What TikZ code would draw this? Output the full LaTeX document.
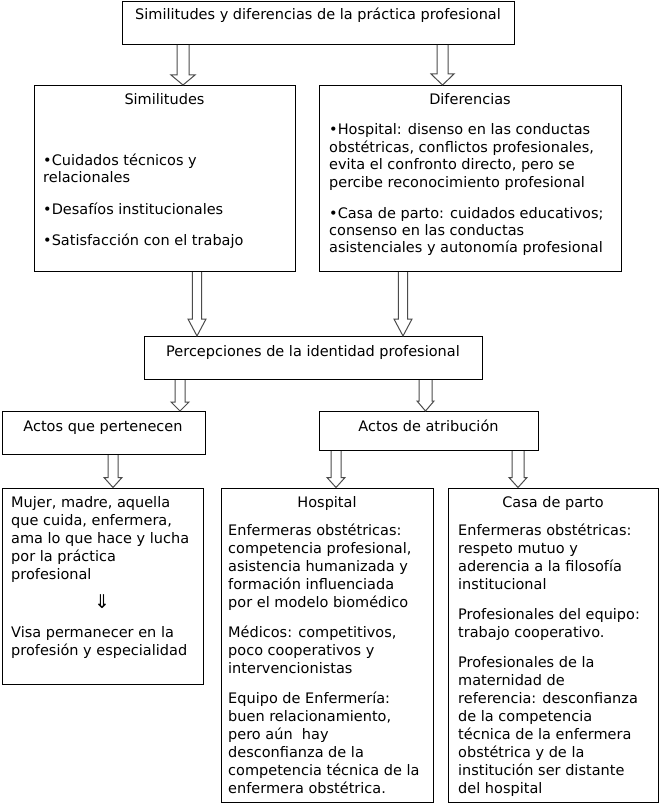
\documentclass[tikz,border=0pt]{standalone}
\usepackage{fontspec}
\setmainfont{DejaVu Sans}
\usetikzlibrary{calc}
\newcommand\tbx[4]{\vtop{\hsize=#1pt\parindent=0pt\baselineskip=#2pt\parskip=#3pt\raggedright\leavevmode #4\par}}
\newcommand\blk[6]{%
 \draw[arr] let \p1=(#1.south), \p2=(#2.north) in
 ({(#3-#4)*1pt},\y1) -- ({(#3-#4)*1pt},{\y2+#6pt}) -- ({(#3-#5)*1pt},{\y2+#6pt}) -- ({#3*1pt},\y2) -- ({(#3+#5)*1pt},{\y2+#6pt}) -- ({(#3+#4)*1pt},{\y2+#6pt}) -- ({(#3+#4)*1pt},\y1);}
\tikzset{
 box/.style={draw=black, line width=1pt, inner sep=0pt, anchor=north west},
 arr/.style={draw=black!70, line width=1pt, line join=miter},
 lbl/.style={inner sep=0pt, font=\fontsize{14.5}{17.4}\selectfont},
}
\begin{document}
\begin{tikzpicture}[x=1pt,y=-1pt]
\fill[white] (0,0) rectangle (659,805);
\useasboundingbox (0,0) rectangle (659,805);
% boxes
\node[box, minimum width=392.5pt, minimum height=42.5pt] (top) at (121.5,1.5) {};
\node[box, minimum width=261pt, minimum height=186pt] (sim) at (34,85) {};
\node[box, minimum width=302pt, minimum height=186pt] (dif) at (319,85) {};
\node[box, minimum width=338pt, minimum height=43pt] (perc) at (144,336) {};
\node[box, minimum width=203.5pt, minimum height=43pt] (actp) at (1.5,411) {};
\node[box, minimum width=219pt, minimum height=39pt] (acta) at (319,411) {};
\node[box, minimum width=201.5pt, minimum height=196.5pt] (mujer) at (1.5,487.5) {};
\node[box, minimum width=212.5pt, minimum height=314.5pt] (hosp) at (220.5,487.5) {};
\node[box, minimum width=210pt, minimum height=314.5pt] (casa) at (448,487.5) {};
% texts
\node[lbl, anchor=base] (topT) at (318,20) {Similitudes y diferencias de la práctica profesional};
\node[lbl, anchor=base] (simT) at (164.5,105) {Similitudes};
\node[lbl, anchor=base] (difT) at (470,105) {Diferencias};
\node[lbl, anchor=base west] (simB) at (43,166) {\tbx{400}{17}{14}{•Cuidados técnicos y\\relacionales\par •Desafíos institucionales\par •Satisfacción con el trabajo}};
\node[lbl, anchor=base west] (difB) at (329,135) {\tbx{400}{17.4}{13.5}{•Hospital: disenso en las conductas\\obstétricas, conflictos profesionales,\\evita el confronto directo, pero se\\percibe reconocimiento profesional\par •Casa de parto: cuidados educativos;\\consenso en las conductas\\asistenciales y autonomía profesional}};
\node[lbl, anchor=base] (percT) at (313,356) {Percepciones de la identidad profesional};
\node[lbl, anchor=base] (actpT) at (103,431) {Actos que pertenecen};
\node[lbl, anchor=base] (actaT) at (428.5,431) {Actos de atribución};
\node[lbl, anchor=base west] (mujB1) at (11,507) {\tbx{400}{18}{12}{Mujer, madre, aquella\\que cuida, enfermera,\\ama lo que hace y lucha\\por la práctica\\profesional}};
\node[lbl, anchor=base, font=\fontsize{19}{20}\selectfont] (mujA) at (102,608) {⇓};
\node[lbl, anchor=base west] (mujB2) at (11,637) {\tbx{400}{18}{12}{Visa permanecer en la\\profesión y especialidad}};
\node[lbl, anchor=base] (hospT) at (327,507) {Hospital};
\node[lbl, anchor=base west] (hospB) at (228,535) {\tbx{400}{18}{12}{Enfermeras obstétricas:\\competencia profesional,\\asistencia humanizada y\\formación influenciada\\por el modelo biomédico\par Médicos: competitivos,\\poco cooperativos y\\intervencionistas\par Equipo de Enfermería:\\buen relacionamiento,\\pero aún\ \ hay\\desconfianza de la\\competencia técnica de la\\enfermera obstétrica.}};
\node[lbl, anchor=base] (casaT) at (553,507) {Casa de parto};
\node[lbl, anchor=base west] (casaB) at (458,535) {\tbx{400}{18}{12}{Enfermeras obstétricas:\\respeto mutuo y\\aderencia a la filosofía\\institucional\par Profesionales del equipo:\\trabajo cooperativo.\par Profesionales de la\\maternidad de\\referencia: desconfianza\\de la competencia\\técnica de la enfermera\\obstétrica y de la\\institución ser distante\\del hospital}};
% block arrows
\blk{top}{sim}{183}{6}{12}{10}
\blk{top}{dif}{442.5}{5.5}{11.5}{11}
\blk{sim}{perc}{197}{4.7}{9}{17}
\blk{dif}{perc}{403}{4.7}{9}{17}
\blk{perc}{actp}{180}{5}{9}{9}
\blk{perc}{acta}{425.5}{6.5}{8.5}{10}
\blk{actp}{mujer}{113}{5}{9}{10}
\blk{acta}{hosp}{336}{5}{9}{10}
\blk{acta}{casa}{518}{6}{9}{10}
\end{tikzpicture}
\end{document}
